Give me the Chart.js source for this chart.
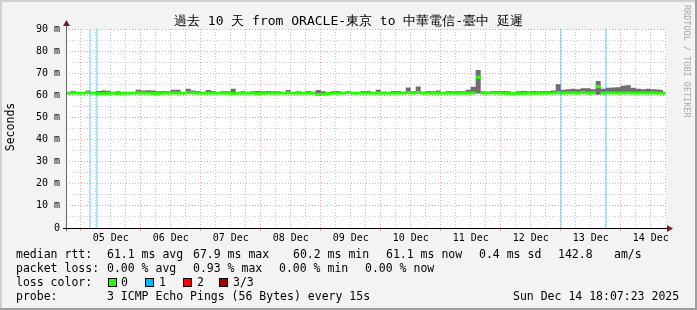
<!DOCTYPE html>
<html>
<head>
<meta charset="utf-8">
<script src="https://cdn.jsdelivr.net/npm/chart.js@4.4.1/dist/chart.umd.min.js"></script>
<style>
  body { margin: 0; background: #f3f3f3; }
  #wrap { position: relative; width: 697px; height: 310px; font-family: "DejaVu Sans Mono", monospace; color: #000; }
  #wrap canvas { position: absolute; left: 0; top: 0; }
  .t { position: absolute; white-space: pre; font-size: 11.5px; line-height: 14px; }
  .title { position: absolute; left: 0; width: 697px; top: 13px; text-align: center; font-size: 13px; line-height: 16px; white-space: pre; }
  .ylab { position: absolute; left: -40px; top: 120px; width: 100px; text-align: center; font-size: 11.5px; line-height: 14px; transform: rotate(-90deg); }
  .credit { position: absolute; left: 692px; top: 5px; font-size: 8.5px; line-height: 10px; color: #a8a8a8; white-space: pre; transform-origin: 0 0; transform: rotate(90deg); }
  .box { position: absolute; width: 7px; height: 7px; border: 1px solid #000; top: 278px; }
</style>
</head>
<body>
<div id="wrap">
  <canvas id="chart" width="697" height="310"></canvas>
  <div class="title">過去 10 天 from ORACLE-東京 to 中華電信-臺中 延遲</div>
  <div class="ylab">Seconds</div>
  <div class="credit">RRDTOOL / TOBI OETIKER</div>

  <div class="t" style="left:16px;top:247px">median rtt:</div>
  <div class="t" style="left:107px;top:247px">61.1 ms avg</div>
  <div class="t" style="left:193px;top:247px">67.9 ms max</div>
  <div class="t" style="left:293px;top:247px">60.2 ms min</div>
  <div class="t" style="left:386px;top:247px">61.1 ms now</div>
  <div class="t" style="left:479px;top:247px">0.4 ms sd</div>
  <div class="t" style="left:558px;top:247px">142.8</div>
  <div class="t" style="left:614px;top:247px">am/s</div>

  <div class="t" style="left:16px;top:261px">packet loss:</div>
  <div class="t" style="left:107px;top:261px">0.00 % avg</div>
  <div class="t" style="left:193px;top:261px">0.93 % max</div>
  <div class="t" style="left:279px;top:261px">0.00 % min</div>
  <div class="t" style="left:365px;top:261px">0.00 % now</div>

  <div class="t" style="left:16px;top:275px">loss color:</div>
  <div class="box" style="left:108px;background:#26ff00"></div>
  <div class="t" style="left:121px;top:275px">0</div>
  <div class="box" style="left:145px;background:#00b8ff"></div>
  <div class="t" style="left:159px;top:275px">1</div>
  <div class="box" style="left:183px;background:#ff0000"></div>
  <div class="t" style="left:197px;top:275px">2</div>
  <div class="box" style="left:219px;background:#a00000"></div>
  <div class="t" style="left:233px;top:275px">3/3</div>

  <div class="t" style="left:16px;top:289px">probe:</div>
  <div class="t" style="left:107px;top:289px">3 ICMP Echo Pings (56 Bytes) every 15s</div>
  <div class="t" style="left:513px;top:289px">Sun Dec 14 18:07:23 2025</div>
</div>
<script>
// time is counted in hours since Dec 4 00:00
const viewStartHour = 18.12;   // Dec 4 18:07
const viewEndHour = 258.12;    // Dec 14 18:07
const sampleStartHour = 19;
const sampleStepHours = 2;

const dayLabels = ['05 Dec', '06 Dec', '07 Dec', '08 Dec', '09 Dec', '10 Dec', '11 Dec', '12 Dec', '13 Dec', '14 Dec'];
const yTickLabels = ['0', '10 m', '20 m', '30 m', '40 m', '50 m', '60 m', '70 m', '80 m', '90 m'];

// median rtt (ms), one value per 2 hours
const medianRtt = [
    61.0, 61.1, 61.0, 61.0, 61.2, 61.0, 60.8, 60.7, 60.9, 61.0,
    60.8, 61.0, 61.0, 61.0, 61.1, 61.0, 61.0, 60.8, 60.8, 61.0,
    61.0, 61.1, 61.0, 61.0, 61.2, 61.1, 61.0, 61.0, 61.0, 61.0,
    61.0, 61.0, 61.0, 60.8, 61.0, 61.0, 61.0, 61.0, 60.8, 61.0,
    61.0, 61.0, 61.0, 61.0, 61.1, 61.0, 61.0, 61.0, 61.0, 61.0,
    60.4, 60.6, 60.8, 61.0, 61.0, 61.0, 61.4, 61.0, 61.0, 61.0,
    61.0, 61.0, 61.0, 61.0, 61.0, 61.0, 61.0, 61.0, 61.2, 61.0,
    61.3, 61.0, 61.0, 61.0, 61.0, 61.0, 61.0, 61.0, 61.0, 61.0,
    61.0, 61.1, 68.2, 61.0, 61.1, 61.1, 61.1, 61.0, 60.9, 60.9,
    60.9, 60.9, 61.0, 60.9, 61.0, 61.0, 61.0, 61.0, 61.2, 61.0,
    61.1, 61.1, 61.0, 61.3, 61.0, 61.1, 64.0, 61.0, 61.1, 61.1,
    61.0, 61.1, 61.1, 61.0, 61.0, 61.1, 61.0, 61.1, 61.0, 61.0
];

// smoke: highest ping per step (ms)
const smokeHigh = [
    61.3, 62.0, 61.3, 61.3, 62.2, 61.5, 62.0, 62.2, 62.1, 61.3,
    61.8, 61.3, 61.3, 61.3, 62.5, 62.2, 62.3, 62.2, 61.8, 62.0,
    61.8, 62.5, 62.5, 61.3, 63.0, 62.2, 62.0, 61.5, 62.4, 62.0,
    61.5, 61.8, 61.8, 63.0, 61.5, 61.8, 61.4, 61.8, 62.0, 61.8,
    62.0, 61.8, 61.8, 61.5, 62.4, 61.5, 61.8, 61.4, 62.0, 61.6,
    62.4, 61.8, 61.4, 61.8, 62.0, 61.4, 62.0, 61.4, 61.5, 62.0,
    62.0, 61.5, 62.5, 61.6, 61.5, 62.0, 62.0, 61.6, 63.5, 61.8,
    64.0, 61.6, 62.0, 61.8, 62.2, 61.5, 62.0, 61.8, 62.0, 61.8,
    62.5, 63.9, 71.5, 61.8, 61.6, 62.0, 62.0, 62.0, 61.8, 61.4,
    61.8, 62.0, 61.8, 62.0, 61.8, 62.0, 62.0, 62.2, 65.0, 62.5,
    62.8, 63.0, 62.8, 63.2, 63.2, 62.8, 66.5, 63.0, 63.4, 63.5,
    63.6, 64.3, 64.6, 63.4, 63.0, 62.8, 63.0, 62.8, 62.6, 62.4
];

// smoke: lowest ping per step (ms)
const smokeLow = [
    60.7, 60.7, 60.7, 60.7, 60.7, 60.7, 60.4, 60.4, 60.6, 60.7,
    60.5, 60.7, 60.7, 60.7, 60.7, 60.7, 60.7, 60.5, 60.5, 60.7,
    60.7, 60.7, 60.7, 60.7, 60.8, 60.7, 60.7, 60.7, 60.7, 60.7,
    60.7, 60.7, 60.7, 60.5, 60.7, 60.7, 60.7, 60.7, 60.5, 60.7,
    60.7, 60.7, 60.7, 60.7, 60.7, 60.7, 60.7, 60.7, 60.7, 60.7,
    60.0, 60.2, 60.5, 60.7, 60.7, 60.7, 60.8, 60.7, 60.7, 60.7,
    60.7, 60.7, 60.7, 60.7, 60.7, 60.7, 60.7, 60.7, 60.7, 60.7,
    60.7, 60.7, 60.7, 60.7, 60.7, 60.7, 60.7, 60.7, 60.7, 60.7,
    60.7, 60.7, 60.8, 60.7, 60.7, 60.7, 60.7, 60.7, 60.6, 60.6,
    60.6, 60.6, 60.7, 60.6, 60.7, 60.7, 60.7, 60.7, 60.6, 60.8,
    60.8, 60.8, 60.8, 60.8, 60.8, 60.8, 60.3, 60.8, 60.8, 60.8,
    60.8, 60.8, 60.8, 60.8, 60.8, 60.8, 60.8, 60.8, 60.8, 60.8
];

// hours at which a ping was lost (1 of 3)
const lossHours = [27.7, 30.5, 216.1, 234.1];

const hourOf = i => sampleStartHour + i * sampleStepHours;
const toPoints = values => values.map((v, i) => ({ x: hourOf(i), y: v }));

const datasets = [
    {
        // median drawn as short horizontal dashes, like rrdtool's line without the risers
        label: 'median',
        data: toPoints(medianRtt),
        showLine: false,
        pointStyle: 'line',
        pointRadius: 2.6,
        pointBorderWidth: 3,
        pointBorderColor: '#26ff00',
        pointBackgroundColor: '#26ff00',
        fill: false,
        order: 1
    },
    {
        label: 'smoke high',
        data: toPoints(smokeHigh),
        stepped: 'middle',
        borderColor: '#6e6e6e',
        borderWidth: 0,
        backgroundColor: '#6e6e6e',
        pointRadius: 0,
        fill: '+1',
        order: 2
    },
    {
        label: 'smoke low',
        data: toPoints(smokeLow),
        stepped: 'middle',
        borderColor: '#6e6e6e',
        borderWidth: 0,
        pointRadius: 0,
        fill: false,
        order: 3
    }
];

lossHours.forEach(h => {
    datasets.push({
        label: 'loss',
        data: [{ x: h, y: 0 }, { x: h, y: 90 }],
        borderColor: 'rgba(0, 184, 255, 0.35)',
        borderWidth: 1.8,
        pointRadius: 0,
        fill: false,
        order: 0
    });
});

const rrdFrame = {
    id: 'rrdFrame',
    beforeDraw(chart) {
        const { ctx, chartArea: a, width, height } = chart;
        ctx.save();
        ctx.fillStyle = '#f3f3f3';
        ctx.fillRect(0, 0, width, height);
        ctx.fillStyle = '#cfcfcf';
        ctx.fillRect(0, 0, width, 2);
        ctx.fillRect(0, 0, 2, height);
        ctx.fillStyle = '#9e9e9e';
        ctx.fillRect(0, height - 2, width, 2);
        ctx.fillRect(width - 2, 0, 2, height);
        ctx.fillStyle = '#ffffff';
        ctx.fillRect(a.left, a.top, a.right - a.left, a.bottom - a.top);
        ctx.restore();
    },
    afterDraw(chart) {
        const { ctx, chartArea: a } = chart;
        ctx.save();
        ctx.lineWidth = 1;
        ctx.strokeStyle = '#666666';
        ctx.beginPath();
        ctx.moveTo(a.left + 0.5, a.bottom + 3);
        ctx.lineTo(a.left + 0.5, a.top - 4);
        ctx.stroke();
        ctx.strokeStyle = '#000000';
        ctx.beginPath();
        ctx.moveTo(a.left - 3, a.bottom + 0.5);
        ctx.lineTo(a.right + 3, a.bottom + 0.5);
        ctx.stroke();
        ctx.fillStyle = '#7f1b1b';
        ctx.beginPath();
        ctx.moveTo(a.left + 0.5, a.top - 9);
        ctx.lineTo(a.left - 3, a.top - 3);
        ctx.lineTo(a.left + 4, a.top - 3);
        ctx.closePath();
        ctx.fill();
        ctx.beginPath();
        ctx.moveTo(a.right + 7, a.bottom + 0.5);
        ctx.lineTo(a.right + 1, a.bottom - 3);
        ctx.lineTo(a.right + 1, a.bottom + 4);
        ctx.closePath();
        ctx.fill();
        ctx.restore();
    }
};

const majorGrid = 'rgba(240, 80, 80, 0.55)';
const minorGrid = '#c8c8c8';
const tickFont = { family: 'DejaVu Sans Mono', size: 10 };

new Chart(document.getElementById('chart'), {
    type: 'line',
    data: { datasets },
    plugins: [rrdFrame],
    options: {
        responsive: false,
        animation: false,
        events: [],
        layout: { padding: { left: 0, right: 31, top: 29, bottom: 62 } },
        plugins: {
            legend: { display: false },
            tooltip: { enabled: false },
            title: { display: false }
        },
        scales: {
            x: {
                type: 'linear',
                min: viewStartHour,
                max: viewEndHour,
                afterFit: scale => { scale.height = 20; },
                afterBuildTicks: scale => {
                    const ticks = [];
                    for (let h = 24; h <= viewEndHour; h += 6) ticks.push({ value: h });
                    scale.ticks = ticks;
                },
                ticks: {
                    autoSkip: false,
                    maxRotation: 0,
                    padding: 1,
                    color: '#000',
                    font: tickFont,
                    callback: v => (v % 24 === 12 ? dayLabels[(v - 36) / 24] : '')
                },
                grid: {
                    drawTicks: true,
                    tickLength: 3,
                    tickColor: ctx => (ctx.tick && ctx.tick.value % 24 === 0 ? majorGrid : 'rgba(0,0,0,0)'),
                    color: ctx => (ctx.tick && ctx.tick.value % 24 === 0 ? majorGrid : minorGrid)
                },
                border: { display: false, dash: [1, 2] }
            },
            y: {
                type: 'linear',
                min: 0,
                max: 90,
                afterFit: scale => { scale.width = 66; },
                afterBuildTicks: scale => {
                    const ticks = [];
                    for (let v = 0; v <= 90; v += 5) ticks.push({ value: v });
                    scale.ticks = ticks;
                },
                ticks: {
                    autoSkip: false,
                    padding: 6,
                    color: '#000',
                    font: tickFont,
                    callback: v => (v % 10 === 0 ? yTickLabels[v / 10] : '')
                },
                grid: {
                    drawTicks: false,
                    color: ctx => {
                        if (!ctx.tick || ctx.tick.value === 0) return 'rgba(0,0,0,0)';
                        return ctx.tick.value % 10 === 0 ? majorGrid : minorGrid;
                    }
                },
                border: { display: false, dash: [1, 2] }
            }
        }
    }
});
</script>
</body>
</html>
